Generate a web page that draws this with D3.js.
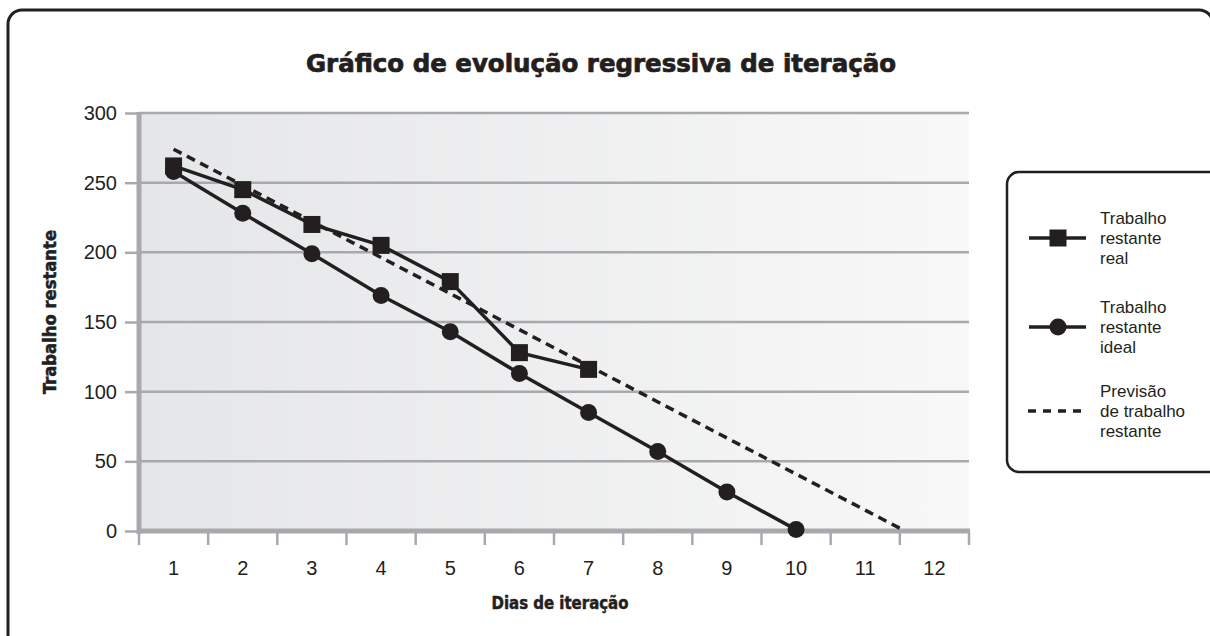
<!DOCTYPE html>
<html>
<head>
<meta charset="utf-8">
<script src="https://cdn.jsdelivr.net/npm/d3@7"></script>
<style>
  html, body { margin: 0; padding: 0; background: #fff; }
  svg { display: block; }
</style>
</head>
<body>
<svg id="chart" width="1210" height="636"></svg>
<script>
// Burndown data: remaining work per iteration day
const days = [1, 2, 3, 4, 5, 6, 7, 8, 9, 10, 11, 12];
const realDays = [1, 2, 3, 4, 5, 6, 7];
const realRemaining = [262, 245, 220, 205, 179, 128, 116];
const idealDays = [1, 2, 3, 4, 5, 6, 7, 8, 9, 10];
const idealRemaining = [258, 228, 199, 169, 143, 113, 85, 57, 28, 1];
const forecastDays = [1, 11.5];
const forecastRemaining = [274, 2];
const yTicks = [0, 50, 100, 150, 200, 250, 300];

const titleText = "Gráfico de evolução regressiva de iteração";
const yTitle = "Trabalho restante";
const xTitle = "Dias de iteração";
const legendItems = [
  { lines: ["Trabalho", "restante", "real"], symbol: "square" },
  { lines: ["Trabalho", "restante", "ideal"], symbol: "circle" },
  { lines: ["Previsão", "de trabalho", "restante"], symbol: "dash" }
];

const ink = "#231f20";
const gridGray = "#a7a9ac";
const boldFont = "'DejaVu Sans Condensed', 'DejaVu Sans', sans-serif";
const bodyFont = "'Liberation Sans', Arial, sans-serif";

const svg = d3.select("#chart");

// Scales
const x = d3.scaleLinear().domain([0.5, 12.5]).range([139, 969]);
const y = d3.scaleLinear().domain([0, 300]).range([531, 113]);

// Outer frame (rounded, running off the bottom/right of the view)
svg.append("rect")
  .attr("x", 8).attr("y", 10)
  .attr("width", 1205).attr("height", 660)
  .attr("rx", 14).attr("ry", 14)
  .attr("fill", "none").attr("stroke", ink).attr("stroke-width", 3);

// Plot background gradient
const defs = svg.append("defs");
const grad = defs.append("linearGradient").attr("id", "plotBg")
  .attr("x1", "0").attr("x2", "1").attr("y1", "0").attr("y2", "0");
grad.append("stop").attr("offset", "0%").attr("stop-color", "#e5e6e8");
grad.append("stop").attr("offset", "100%").attr("stop-color", "#f8f8f8");

svg.append("rect")
  .attr("x", x(0.5)).attr("y", y(300))
  .attr("width", x(12.5) - x(0.5)).attr("height", y(0) - y(300))
  .attr("fill", "url(#plotBg)");

// Horizontal gridlines
svg.append("g").selectAll("line")
  .data(yTicks.filter(d => d > 0))
  .join("line")
  .attr("x1", x(0.5)).attr("x2", x(12.5))
  .attr("y1", d => y(d)).attr("y2", d => y(d))
  .attr("stroke", gridGray).attr("stroke-width", 2.5);

// Y axis
const yAxis = d3.axisLeft(y).tickValues(yTicks).tickSize(14).tickPadding(8);
const gy = svg.append("g").attr("transform", `translate(${x(0.5)},0)`).call(yAxis);
gy.select(".domain").remove();
gy.selectAll(".tick line").attr("stroke", gridGray).attr("stroke-width", 2.5);
gy.selectAll(".tick text")
  .attr("fill", ink).attr("font-family", bodyFont).attr("font-size", 20);
svg.append("line")
  .attr("x1", x(0.5)).attr("x2", x(0.5))
  .attr("y1", y(300) - 1).attr("y2", y(0) + 3)
  .attr("stroke", gridGray).attr("stroke-width", 5);

// X axis: ticks at band edges, labels at band centres
const edges = d3.range(0.5, 12.51, 1);
svg.append("g").selectAll("line")
  .data(edges)
  .join("line")
  .attr("x1", d => x(d)).attr("x2", d => x(d))
  .attr("y1", y(0)).attr("y2", y(0) + 14)
  .attr("stroke", gridGray).attr("stroke-width", 2.5);
svg.append("line")
  .attr("x1", x(0.5) - 2).attr("x2", x(12.5) + 1)
  .attr("y1", y(0)).attr("y2", y(0))
  .attr("stroke", gridGray).attr("stroke-width", 5);
svg.append("g").selectAll("text")
  .data(days)
  .join("text")
  .attr("x", d => x(d)).attr("y", y(0) + 44)
  .attr("text-anchor", "middle")
  .attr("fill", ink).attr("font-family", bodyFont).attr("font-size", 20)
  .text(d => d);

// Titles (heavy condensed look)
svg.append("text")
  .attr("x", 601).attr("y", 72)
  .attr("text-anchor", "middle")
  .attr("fill", ink).attr("stroke", ink).attr("stroke-width", 0.7)
  .attr("font-family", boldFont).attr("font-weight", "bold")
  .attr("font-size", 25)
  .attr("textLength", 590).attr("lengthAdjust", "spacingAndGlyphs")
  .text(titleText);

svg.append("text")
  .attr("x", 560).attr("y", 609)
  .attr("text-anchor", "middle")
  .attr("fill", ink).attr("stroke", ink).attr("stroke-width", 0.5)
  .attr("font-family", boldFont).attr("font-weight", "bold")
  .attr("font-size", 18)
  .attr("textLength", 137).attr("lengthAdjust", "spacingAndGlyphs")
  .text(xTitle);

svg.append("text")
  .attr("transform", "translate(56,312) rotate(-90)")
  .attr("text-anchor", "middle")
  .attr("fill", ink).attr("stroke", ink).attr("stroke-width", 0.5)
  .attr("font-family", boldFont).attr("font-weight", "bold")
  .attr("font-size", 18)
  .attr("textLength", 164).attr("lengthAdjust", "spacingAndGlyphs")
  .text(yTitle);

// Series
const lineGen = d3.line().x(d => x(d[0])).y(d => y(d[1]));

const forecastPts = d3.zip(forecastDays, forecastRemaining);
svg.append("path")
  .attr("d", lineGen(forecastPts))
  .attr("fill", "none").attr("stroke", ink)
  .attr("stroke-width", 3.5).attr("stroke-dasharray", "9,6");

const idealPts = d3.zip(idealDays, idealRemaining);
svg.append("path")
  .attr("d", lineGen(idealPts))
  .attr("fill", "none").attr("stroke", ink).attr("stroke-width", 3.5);
svg.append("g").selectAll("circle")
  .data(idealPts)
  .join("circle")
  .attr("cx", d => x(d[0])).attr("cy", d => y(d[1]))
  .attr("r", 8.5).attr("fill", ink);

const realPts = d3.zip(realDays, realRemaining);
svg.append("path")
  .attr("d", lineGen(realPts))
  .attr("fill", "none").attr("stroke", ink).attr("stroke-width", 3.5);
const sq = 17;
svg.append("g").selectAll("rect")
  .data(realPts)
  .join("rect")
  .attr("x", d => x(d[0]) - sq / 2).attr("y", d => y(d[1]) - sq / 2)
  .attr("width", sq).attr("height", sq).attr("fill", ink);

// Legend
const legend = svg.append("g");
legend.append("rect")
  .attr("x", 1007).attr("y", 172)
  .attr("width", 260).attr("height", 300)
  .attr("rx", 12).attr("ry", 12)
  .attr("fill", "#fff").attr("stroke", ink).attr("stroke-width", 2.5);

const itemTops = [224, 313, 397];
legendItems.forEach((item, i) => {
  const g = legend.append("g");
  const base = itemTops[i];
  const symY = base + 20 - 6;
  if (item.symbol === "dash") {
    g.append("line")
      .attr("x1", 1028).attr("x2", 1088).attr("y1", symY).attr("y2", symY)
      .attr("stroke", ink).attr("stroke-width", 3.5).attr("stroke-dasharray", "8,7");
  } else {
    g.append("line")
      .attr("x1", 1029).attr("x2", 1086).attr("y1", symY).attr("y2", symY)
      .attr("stroke", ink).attr("stroke-width", 3.5);
    if (item.symbol === "square") {
      g.append("rect")
        .attr("x", 1058 - sq / 2).attr("y", symY - sq / 2)
        .attr("width", sq).attr("height", sq).attr("fill", ink);
    } else {
      g.append("circle")
        .attr("cx", 1058).attr("cy", symY).attr("r", 8.5).attr("fill", ink);
    }
  }
  g.selectAll("text")
    .data(item.lines)
    .join("text")
    .attr("x", 1100).attr("y", (d, k) => base + k * 20)
    .attr("fill", ink).attr("font-family", bodyFont).attr("font-size", 17)
    .text(d => d);
});
</script>
</body>
</html>
